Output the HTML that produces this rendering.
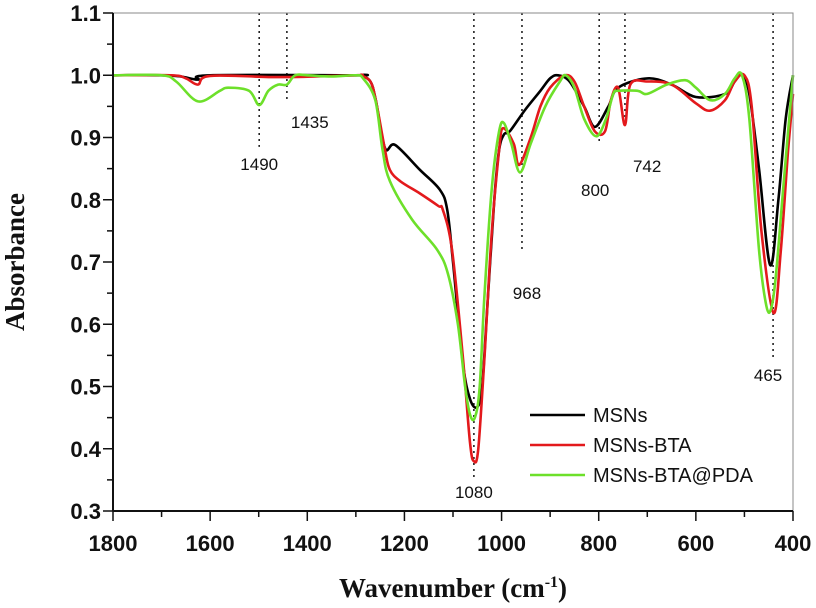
<!DOCTYPE html>
<html><head><meta charset="utf-8"><style>
html,body{margin:0;padding:0;background:#fff;}
svg{display:block;}
.tk{font-family:"Liberation Sans",sans-serif;font-weight:bold;font-size:22px;fill:#111;}
.an{font-family:"Liberation Sans",sans-serif;font-size:17px;fill:#111;}
.ttl{font-family:"Liberation Serif",serif;font-weight:bold;font-size:27px;fill:#111;}
</style></head><body>
<svg id="chart" width="816" height="608" viewBox="0 0 816 608"></svg>
<script>
const xTicks=[1800,1600,1400,1200,1000,800,600,400];
const yTicks=[0.3,0.4,0.5,0.6,0.7,0.8,0.9,1.0,1.1];
const seriesNames=["MSNs","MSNs-BTA","MSNs-BTA@PDA"];
const seriesColors=["#000000","#e3191c","#6de02a"];
const msnsWn=[1800,1700,1660,1625,1600,1300,1290,1270,1259,1240,1219,1168,1127,1112,1100,1080,1065,1050,1040,1030,1015,1005,995,983,952,920,900,884,860,830,808,780,760,700,650,600,540,520,505,490,470,447,430,415,400];
const msnsAbs=[1.0,1.0,0.998,0.993,1.0,1.0,1.0,0.99,0.96,0.883,0.888,0.848,0.816,0.784,0.70,0.54,0.48,0.467,0.50,0.62,0.80,0.88,0.905,0.91,0.944,0.975,0.995,1.0,0.99,0.95,0.917,0.95,0.98,0.995,0.985,0.965,0.97,0.99,1.0,0.97,0.85,0.695,0.80,0.93,1.0];
const btaWn=[1800,1680,1650,1625,1600,1455,1300,1290,1270,1259,1240,1230,1209,1168,1130,1121,1102,1080,1065,1057,1048,1035,1020,1005,997,975,964,940,920,900,870,850,830,808,787,775,760,746,735,700,650,600,571,540,520,500,485,465,440,425,410,400];
const btaAbs=[1.0,1.0,0.995,0.985,0.999,0.997,1.0,1.0,0.99,0.96,0.88,0.848,0.83,0.81,0.79,0.784,0.72,0.55,0.41,0.38,0.40,0.55,0.75,0.88,0.915,0.89,0.856,0.9,0.95,0.98,1.0,0.99,0.95,0.91,0.91,0.96,0.98,0.92,0.985,0.99,0.985,0.955,0.943,0.96,0.99,1.0,0.95,0.75,0.618,0.72,0.88,0.97];
const pdaWn=[1800,1700,1670,1625,1580,1563,1520,1499,1480,1460,1442,1425,1400,1350,1300,1285,1260,1245,1230,1184,1133,1110,1090,1075,1065,1055,1045,1035,1020,1005,995,980,962,940,910,880,868,850,830,805,785,770,760,720,700,660,622,600,570,540,520,505,490,470,455,445,435,420,400];
const pdaAbs=[1.0,1.0,0.99,0.958,0.975,0.98,0.975,0.952,0.975,0.985,0.985,1.0,1.0,0.998,1.0,0.995,0.96,0.88,0.83,0.768,0.72,0.68,0.60,0.50,0.455,0.45,0.50,0.65,0.82,0.91,0.923,0.89,0.844,0.89,0.95,0.99,1.0,0.98,0.93,0.902,0.93,0.97,0.975,0.975,0.97,0.985,0.992,0.98,0.96,0.97,0.995,1.0,0.93,0.72,0.63,0.625,0.68,0.82,1.0];
const markWn=[1499,1442,1057,958,799,746,441];
const markLabels=["1490","1435","1080","968","800","742","465"];
const markEndAbs=[0.885,0.96,0.35,0.72,0.89,0.925,0.547];

const L=113,R=793,T=13,B=511;
const X=w=>L+(1800-w)/1400*(R-L);
const Y=a=>T+(1.1-a)/0.8*(B-T);
const svg=document.getElementById('chart');
const NS='http://www.w3.org/2000/svg';
function mk(tag,attrs,parent){const e=document.createElementNS(NS,tag);for(const k in attrs)e.setAttribute(k,attrs[k]);(parent||svg).appendChild(e);return e;}

markWn.forEach((w,i)=>{
  const ln=mk('line',{x1:X(w),x2:X(w),y1:T,y2:Y(markEndAbs[i]),stroke:'#222','stroke-width':1.6,'stroke-dasharray':'2,4'});
  
  
});
function path(wn,ab){
  const p=wn.map((w,i)=>[X(w),Y(ab[i])]);
  let d='M'+p[0][0].toFixed(1)+','+p[0][1].toFixed(1);
  for(let i=0;i<p.length-1;i++){
    const p0=p[i-1]||p[i],p1=p[i],p2=p[i+1],p3=p[i+2]||p2;
    const c1=[p1[0]+(p2[0]-p0[0])/6,p1[1]+(p2[1]-p0[1])/6];
    const c2=[p2[0]-(p3[0]-p1[0])/6,p2[1]-(p3[1]-p1[1])/6];
    d+=' C'+c1[0].toFixed(1)+','+c1[1].toFixed(1)+' '+c2[0].toFixed(1)+','+c2[1].toFixed(1)+' '+p2[0].toFixed(1)+','+p2[1].toFixed(1);
  }
  return d;
}
const all=[[msnsWn,msnsAbs],[btaWn,btaAbs],[pdaWn,pdaAbs]];
all.forEach((s,i)=>{
  const el=mk('path',{d:path(s[0],s[1]),fill:'none',stroke:seriesColors[i],'stroke-width':2.6,'stroke-linejoin':'round'});
  
  
});
const fr=mk('rect',{x:L,y:T,width:R-L,height:B-T,fill:'none',stroke:'#888','stroke-width':1});


const ya=mk('line',{x1:L,x2:L,y1:T,y2:B,stroke:'#111','stroke-width':2});


const xa=mk('line',{x1:L,x2:R,y1:B,y2:B,stroke:'#111','stroke-width':2});


yTicks.forEach((v,i)=>{
  const t=mk('line',{x1:L-10,x2:L,y1:Y(v),y2:Y(v),stroke:'#111','stroke-width':1.5});
  
  
  if(i<yTicks.length-1){const m=mk('line',{x1:L-6,x2:L,y1:Y(v+0.05),y2:Y(v+0.05),stroke:'#111','stroke-width':1.5});
  
  }
  const lb=mk('text',{x:L-12,y:Y(v)+8,'text-anchor':'end',class:'tk'});lb.textContent=v.toFixed(1);
  
  
});
xTicks.forEach((v,i)=>{
  const t=mk('line',{x1:X(v),x2:X(v),y1:B,y2:B+10,stroke:'#111','stroke-width':1.5});
  
  
  if(i<xTicks.length-1){const m=mk('line',{x1:X(v-100),x2:X(v-100),y1:B,y2:B+6,stroke:'#111','stroke-width':1.5});
  
  }
  const lb=mk('text',{x:X(v),y:B+40,'text-anchor':'middle',class:'tk'});lb.textContent=v;
  
  
});
const annPos=[[0,170,'middle'],[4,128,'start'],[0,498,'middle'],[5,299,'middle'],[-4,196,'middle'],[8,172,'start'],[-5,381,'middle']];
markWn.forEach((w,i)=>{
  const a=annPos[i];
  const t=mk('text',{x:X(w)+a[0],y:a[1],'text-anchor':a[2],class:'an'});t.textContent=markLabels[i];
  
  
});
seriesNames.forEach((n,i)=>{
  const y=415+i*30;
  const ln=mk('line',{x1:530,x2:585,y1:y,y2:y,stroke:seriesColors[i],'stroke-width':2.6});
  
  
  const t=mk('text',{x:593,y:y+7,class:'an'});t.textContent=n;t.style.fontSize='20px';
  
  
});
const xt=mk('text',{x:(L+R)/2,y:597,'text-anchor':'middle',class:'ttl'});
xt.innerHTML='Wavenumber (cm<tspan dy="-10" font-size="16">-1</tspan><tspan dy="10">)</tspan>';


const yt=mk('text',{x:0,y:0,'text-anchor':'middle',class:'ttl',transform:'translate(24,'+((T+B)/2)+') rotate(-90)'});
yt.textContent='Absorbance';


</script>
</body></html>
